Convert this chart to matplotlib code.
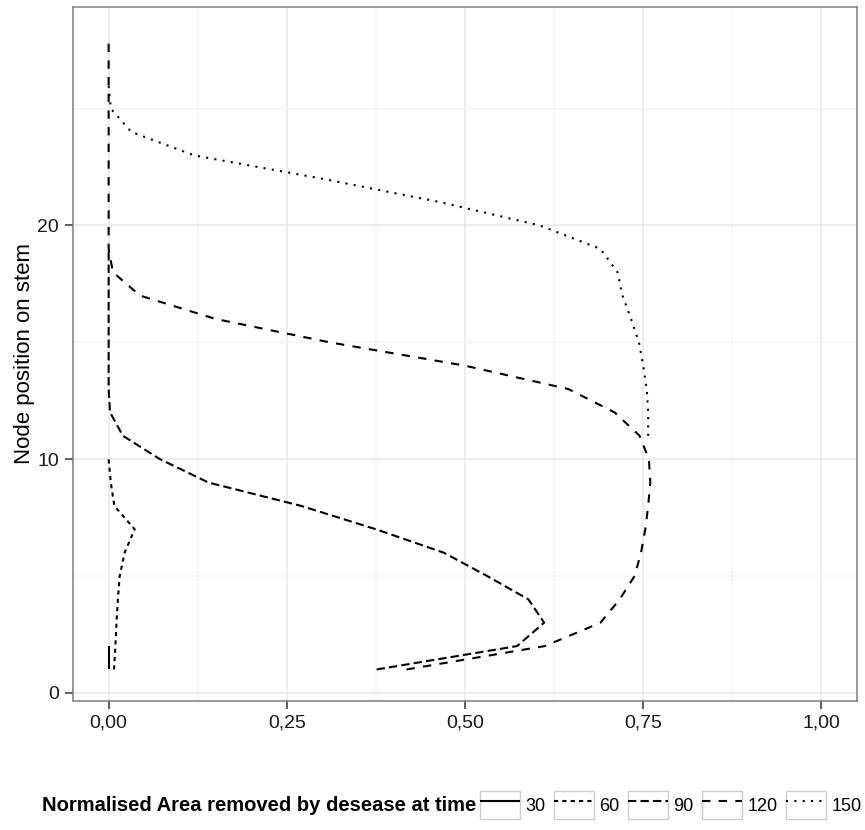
import matplotlib
matplotlib.use("Agg")
import matplotlib.pyplot as plt
from matplotlib.legend_handler import HandlerLine2D
from matplotlib.patches import Rectangle

plt.rcParams['font.family'] = ['Liberation Sans', 'DejaVu Sans']

# ---------------- data ----------------
nodes_30 = [1, 2]
area_30 = [0.0, 0.0]

nodes_60 = [1, 2, 3, 4, 5, 6, 7, 8, 9, 10]
area_60 = [0.0075, 0.0095, 0.011, 0.013, 0.0155, 0.0225, 0.0365, 0.008, 0.003, 0.0]

nodes_90 = list(range(1, 20))
area_90 = [0.376, 0.573, 0.611, 0.589, 0.531, 0.47, 0.375, 0.27, 0.14, 0.072,
           0.02, 0.002, 0.0, 0.0, 0.0, 0.0, 0.0, 0.0, 0.0]

nodes_120 = list(range(1, 29))
area_120 = [0.418, 0.612, 0.69, 0.717, 0.738, 0.747, 0.753, 0.757, 0.76, 0.758,
            0.745, 0.71, 0.645, 0.50, 0.31, 0.15, 0.044, 0.006, 0.0, 0.0,
            0.0, 0.0, 0.0, 0.0, 0.0, 0.0, 0.0, 0.0]

nodes_150 = list(range(11, 27))
area_150 = [0.757, 0.757, 0.755, 0.75, 0.744, 0.733, 0.721, 0.714, 0.69, 0.605,
            0.465, 0.30, 0.12, 0.032, 0.003, 0.0]

times = ['30', '60', '90', '120', '150']
x_ticks = [0.0, 0.25, 0.5, 0.75, 1.0]
x_ticklabels = ['0,00', '0,25', '0,50', '0,75', '1,00']
y_ticks = [0, 10, 20]

series = [(nodes_30, area_30), (nodes_60, area_60), (nodes_90, area_90),
          (nodes_120, area_120), (nodes_150, area_150)]
dash_styles = ['-', (0, (2, 2)), (0, (4, 2)), (0, (4, 4)), (0, (1, 3))]

# ---------------- figure ----------------
W, H = 865, 830
fig = plt.figure(figsize=(W / 100, H / 100), dpi=100)
ax = fig.add_axes([73 / W, 1 - 701 / H, (857 - 73) / W, (701 - 7) / H])

handles = []
for (nodes, area), ls, t in zip(series, dash_styles, times):
    ln, = ax.plot(area, nodes, color='black', lw=1.5, linestyle=ls,
                  dash_capstyle='butt', solid_capstyle='butt', label=t)
    handles.append(ln)

ax.set_xlim(-0.05, 1.05)
ax.set_ylim(-0.35, 29.35)
ax.set_xticks(x_ticks)
ax.set_xticklabels(x_ticklabels)
ax.set_xticks([0.125, 0.375, 0.625, 0.875], minor=True)
ax.set_yticks(y_ticks)
ax.set_yticks([5, 15, 25], minor=True)
ax.grid(which='major', color='#E8E8E8', lw=1.1)
ax.grid(which='minor', color='#F5F5F5', lw=1.1)
ax.set_axisbelow(True)
ax.tick_params(which='minor', length=0)
ax.tick_params(which='major', length=6, width=1.1, color='#333333',
               labelsize=14, labelcolor='#1A1A1A', pad=4)
for sp in ax.spines.values():
    sp.set_color('#7F7F7F')
    sp.set_linewidth(1.1)

ax.set_ylabel('Node position on stem', fontsize=16, labelpad=2)


class BoxedHandler(HandlerLine2D):
    def create_artists(self, legend, orig_handle, xdescent, ydescent,
                       width, height, fontsize, trans):
        arts = super().create_artists(legend, orig_handle, xdescent, ydescent,
                                      width, height, fontsize, trans)
        box = Rectangle((-xdescent, -ydescent), width, height, transform=trans,
                        facecolor='white', edgecolor='#CCCCCC', lw=1.0)
        return [box] + list(arts)


y_leg = 1 - 805 / H
title = fig.text(42 / W, y_leg, 'Normalised Area removed by desease at time',
                 fontsize=14.5, fontweight='bold', va='center', ha='left')
fig.canvas.draw()
bb = title.get_window_extent(fig.canvas.get_renderer())
x_start = (bb.x1 + 4) / W

hm = {h: BoxedHandler() for h in handles}
fig.legend(handles, times, loc='center left', bbox_to_anchor=(x_start, y_leg),
           bbox_transform=fig.transFigure, ncol=5, frameon=False,
           fontsize=13, handlelength=2.2, handleheight=2.0, handletextpad=0.3,
           columnspacing=0.48, borderpad=0, borderaxespad=0, handler_map=hm)

fig.savefig('out.png', dpi=100)
